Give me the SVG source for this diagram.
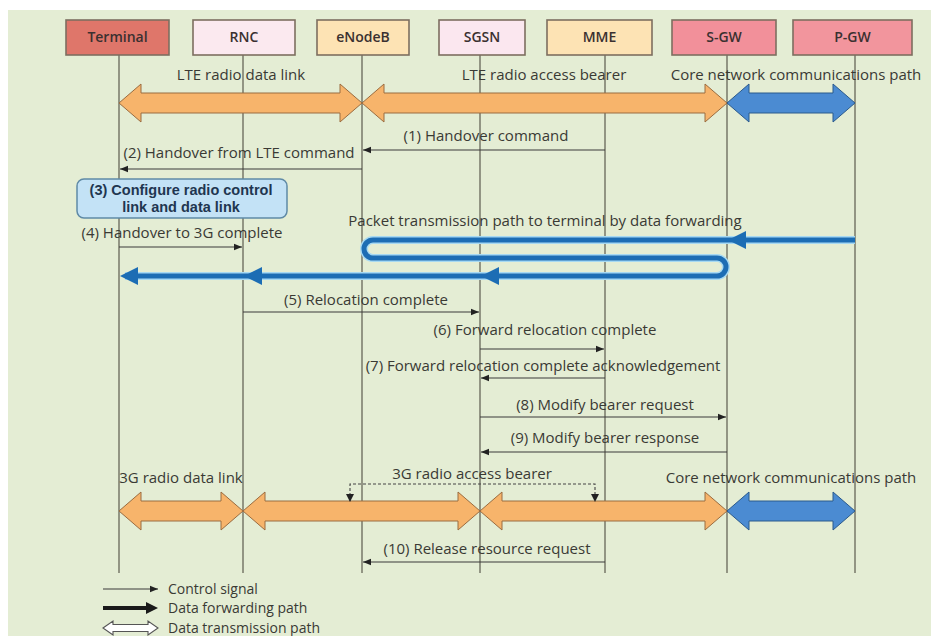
<svg xmlns="http://www.w3.org/2000/svg" width="931" height="636" viewBox="0 0 931 636">
<defs>
<style>
text{font-family:"Open Sans","Noto Sans","Liberation Sans",sans-serif;fill:#3a3a34;font-size:15px}
.nl{font-size:14px;text-anchor:middle;font-weight:600;fill:#3a3030}
.lbl{text-anchor:middle}
.box{stroke:#7d6e60;stroke-width:1.6}
.life{stroke:#6f6f62;stroke-width:1.4;fill:none}
.msg{stroke:#3a3a3a;stroke-width:1.1;fill:none;marker-end:url(#ah)}
.org{fill:#f7b46b;stroke:#9a6c40;stroke-width:1}
.blu{fill:#4b8bd2;stroke:#2b5a8c;stroke-width:1}
.fwd{fill:#1c6db4}
.s3{font-family:"Liberation Sans",Arial,sans-serif;font-weight:bold;fill:#1f3650;font-size:14.5px;text-anchor:middle}
.lg{font-size:14px}
</style>
<marker id="ah" markerWidth="9" markerHeight="8" refX="8" refY="4" orient="auto" markerUnits="userSpaceOnUse"><path d="M0,0.8 L8,4 L0,7.2 Z" fill="#222"/></marker>
</defs>
<rect x="0" y="0" width="931" height="636" fill="#ffffff"/>
<rect x="8" y="10" width="923" height="626" fill="#e4edd4"/>

<g id="lifelines">
<line class="life" x1="119" y1="55" x2="119" y2="573"/>
<line class="life" x1="243" y1="55" x2="243" y2="573"/>
<line class="life" x1="362" y1="55" x2="362" y2="573"/>
<line class="life" x1="480" y1="55" x2="480" y2="573"/>
<line class="life" x1="605" y1="55" x2="605" y2="573"/>
<line class="life" x1="727" y1="55" x2="727" y2="573"/>
<line class="life" x1="855" y1="55" x2="855" y2="573"/>
</g>

<g id="terminal"><rect class="box" x="66" y="20" width="103" height="35" fill="#df766a"/><text class="nl" x="117.5" y="42">Terminal</text></g>
<g id="rnc"><rect class="box" x="193" y="20" width="102" height="35" fill="#fbe9ef"/><text class="nl" x="244" y="42">RNC</text></g>
<g id="enodeb"><rect class="box" x="317" y="20" width="92" height="35" fill="#fde3b4"/><text class="nl" x="363" y="42">eNodeB</text></g>
<g id="sgsn"><rect class="box" x="439" y="20" width="86" height="35" fill="#fbe7ef"/><text class="nl" x="482" y="42">SGSN</text></g>
<g id="mme"><rect class="box" x="547" y="20" width="105" height="35" fill="#fde3b4"/><text class="nl" x="599.5" y="42">MME</text></g>
<g id="sgw"><rect class="box" x="672" y="20" width="104" height="35" fill="#f2909a"/><text class="nl" x="724" y="42">S-GW</text></g>
<g id="pgw"><rect class="box" x="793" y="20" width="119" height="35" fill="#f2959d"/><text class="nl" x="852.5" y="42">P-GW</text></g>

<g id="paths">
<path class="org" d="M119,103 L141,84 L141,93 L340,93 L340,84 L362,103 L340,122 L340,113 L141,113 L141,122 Z"/>
<path class="org" d="M362,103 L384,84 L384,93 L705,93 L705,84 L727,103 L705,122 L705,113 L384,113 L384,122 Z"/>
<path class="blu" d="M727,103 L749,84 L749,93 L833,93 L833,84 L855,103 L833,122 L833,113 L749,113 L749,122 Z"/>
<text class="lbl" x="241" y="80">LTE radio data link</text>
<text class="lbl" x="544" y="80">LTE radio access bearer</text>
<text class="lbl" x="796" y="80">Core network communications path</text>

<path class="org" d="M119,511 L141,492 L141,501 L221,501 L221,492 L243,511 L221,530 L221,521 L141,521 L141,530 Z"/>
<path class="org" d="M243,511 L265,492 L265,501 L458,501 L458,492 L480,511 L458,530 L458,521 L265,521 L265,530 Z"/>
<path class="org" d="M480,511 L502,492 L502,501 L705,501 L705,492 L727,511 L705,530 L705,521 L502,521 L502,530 Z"/>
<path class="blu" d="M727,511 L749,492 L749,501 L833,501 L833,492 L855,511 L833,530 L833,521 L749,521 L749,530 Z"/>
<text class="lbl" x="181" y="483">3G radio data link</text>
<text class="lbl" x="472" y="479">3G radio access bearer</text>
<text class="lbl" x="791" y="483">Core network communications path</text>
<path d="M350,501 V484 H595 V501" fill="none" stroke="#444" stroke-width="1.1" stroke-dasharray="3,2"/>
<path d="M346,494 L354,494 L350,502 Z" fill="#222"/>
<path d="M591,494 L599,494 L595,502 Z" fill="#222"/>
</g>

<g id="forwarding">
<path d="M855,240 H373 A9,9 0 0 0 373,258 H717 A9,9 0 0 1 717,276 H125" fill="none" stroke="#a6d9f2" stroke-width="8"/>
<path d="M855,240 H373 A9,9 0 0 0 373,258 H717 A9,9 0 0 1 717,276 H125" fill="none" stroke="#1c6db4" stroke-width="5"/>
<polygon class="fwd" points="728,240 746,231 746,249"/>
<polygon class="fwd" points="481,276 499,267 499,285"/>
<polygon class="fwd" points="244,276 262,267 262,285"/>
<polygon class="fwd" points="120,276 138,267 138,285"/>
<text class="lbl" x="545" y="226">Packet transmission path to terminal by data forwarding</text>
</g>

<g id="messages">
<line class="msg" x1="605" y1="150" x2="363" y2="150"/>
<text class="lbl" x="486" y="141">(1) Handover command</text>
<line class="msg" x1="362" y1="169" x2="120" y2="169"/>
<text class="lbl" x="239" y="158">(2) Handover from LTE command</text>
<line class="msg" x1="119" y1="247" x2="242" y2="247"/>
<text class="lbl" x="182" y="238">(4) Handover to 3G complete</text>
<line class="msg" x1="243" y1="312" x2="479" y2="312"/>
<text class="lbl" x="366" y="305">(5) Relocation complete</text>
<line class="msg" x1="480" y1="349" x2="604" y2="349"/>
<text class="lbl" x="545" y="335">(6) Forward relocation complete</text>
<line class="msg" x1="605" y1="378" x2="481" y2="378"/>
<text class="lbl" x="543" y="371">(7) Forward relocation complete acknowledgement</text>
<line class="msg" x1="480" y1="417" x2="726" y2="417"/>
<text class="lbl" x="605" y="410">(8) Modify bearer request</text>
<line class="msg" x1="727" y1="452" x2="481" y2="452"/>
<text class="lbl" x="605" y="443">(9) Modify bearer response</text>
<line class="msg" x1="605" y1="562" x2="363" y2="562"/>
<text class="lbl" x="487" y="554">(10) Release resource request</text>
</g>

<g id="step3">
<rect x="77" y="179" width="210" height="39" rx="7" fill="#c3e2f6" stroke="#5f8aa6" stroke-width="1.5"/>
<text class="s3" x="181" y="195">(3) Configure radio control<tspan x="181" dy="16.5">link and data link</tspan></text>
</g>

<g id="legend">
<line class="msg" x1="103" y1="589" x2="158" y2="589"/>
<text class="lg" x="168" y="594">Control signal</text>
<line x1="103" y1="608" x2="148" y2="608" stroke="#1a1a1a" stroke-width="4"/>
<polygon points="158,608 146,602 146,614" fill="#1a1a1a"/>
<text class="lg" x="168" y="613">Data forwarding path</text>
<path d="M103,628 L113,621 L113,624.5 L148,624.5 L148,621 L158,628 L148,635 L148,631.5 L113,631.5 L113,635 Z" fill="#ffffff" stroke="#555" stroke-width="1.1"/>
<text class="lg" x="168" y="633">Data transmission path</text>
</g>
</svg>
